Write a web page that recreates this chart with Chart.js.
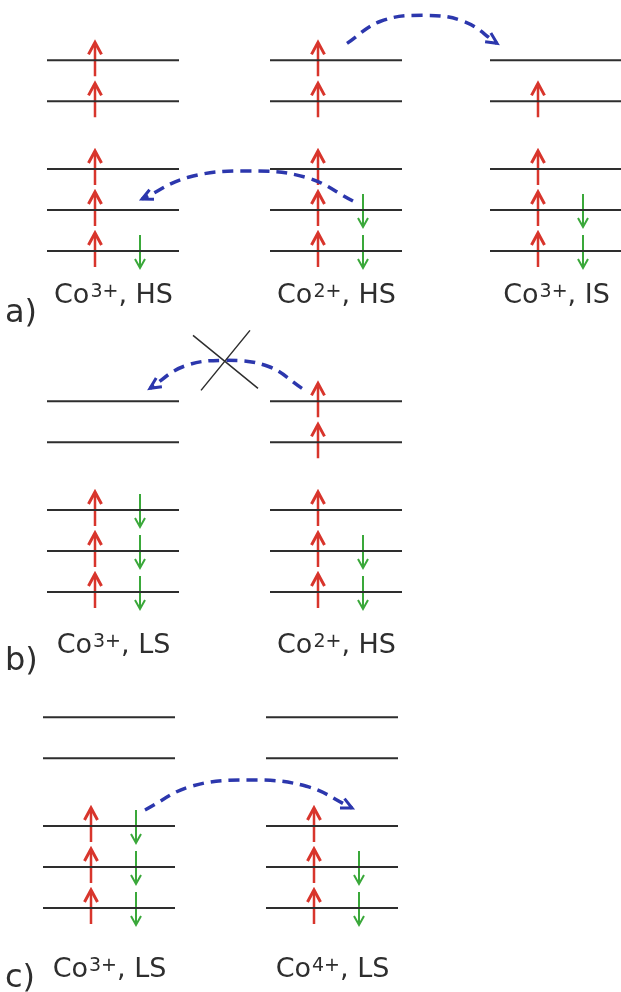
<!DOCTYPE html>
<html>
<head>
<meta charset="utf-8">
<script src="https://cdn.jsdelivr.net/npm/chart.js@4.4.0/dist/chart.umd.min.js"></script>
<style>
  html, body { margin: 0; padding: 0; background: #fff; }
  #wrap { width: 621px; height: 992px; }
</style>
</head>
<body>
<div id="wrap"><canvas id="levels" width="621" height="992"></canvas></div>
<script>
// d-level energies in units of the level spacing, lowest (t2g) first
const levelEnergy = [0, 1, 2, 3.65, 4.65]
const ionElement = ['Co', 'Co', 'Co', 'Co', 'Co', 'Co', 'Co']
const ionCharge = ['3+', '2+', '3+', '3+', '2+', '3+', '4+']
const ionSpin = ['HS', 'HS', 'IS', 'LS', 'HS', 'LS', 'LS']
const ionPanel = [0, 0, 0, 1, 1, 2, 2]
// electrons on each level (same order as levelEnergy)
const spinUp = [
  [1, 1, 1, 1, 1],
  [1, 1, 1, 1, 1],
  [1, 1, 1, 1, 0],
  [1, 1, 1, 0, 0],
  [1, 1, 1, 1, 1],
  [1, 1, 1, 0, 0],
  [1, 1, 1, 0, 0]
]
const spinDown = [
  [1, 0, 0, 0, 0],
  [1, 1, 0, 0, 0],
  [1, 1, 0, 0, 0],
  [1, 1, 1, 0, 0],
  [1, 1, 0, 0, 0],
  [1, 1, 1, 0, 0],
  [1, 1, 0, 0, 0]
]
const panelLabels = ['a)', 'b)', 'c)']
// electron hops: [fromIon, fromLevel, toIon, toLevel]
const hops = [[1, 4, 2, 4], [1, 1, 0, 1], [4, 4, 3, 4], [5, 2, 6, 2]]
const hopForbidden = [false, false, true, false]

// layout (chart units, y grows downwards)
const panelBase = [251, 592, 908]
const levelGap = 41
const ionLeft = [47, 270, 490, 47, 270, 43, 266]
const levelWidth = 132
const upOffset = 48
const downOffset = 93
const labelBaseline = [303, 653, 977]
const panelLabelBaseline = [322, 670, 987]
const hopShape = [[77, -17, 7, -17], [83, -9, 95, -11], [32, -13, 103, -13], [102, -16, 86, -18]]
const hopRise = [28, 28, 28, 28]
// arc profile: [fraction along the hop, fraction of the rise]
const arcProfile = [[0, 0], [0.22, 0.78], [0.5, 1], [0.78, 0.78], [1, 0]]
const crossArms = [[-33, -25, 32, 28], [24, -30, -25, 30]]

const RED = '#d8352c'
const GREEN = '#3aa83a'
const BLUE = '#2c37ad'
const INK = '#2e2e2e'

const levelY = (ion, level) => panelBase[ionPanel[ion]] - levelEnergy[level] * levelGap
const gap = { x: null, y: null }

const levelPts = []
const upShafts = [], upHeads = [], downShafts = [], downHeads = []
ionPanel.forEach((panel, ion) => {
  levelEnergy.forEach((e, level) => {
    const y = levelY(ion, level)
    levelPts.push({ x: ionLeft[ion], y }, { x: ionLeft[ion] + levelWidth, y }, gap)
    if (spinUp[ion][level]) {
      const x = ionLeft[ion] + upOffset
      upShafts.push({ x, y: y + 16 }, { x, y: y - 15 }, gap)
      upHeads.push({ x: x - 6.5, y: y - 6 }, { x, y: y - 18 }, { x: x + 6.5, y: y - 6 }, gap)
    }
    if (spinDown[ion][level]) {
      const x = ionLeft[ion] + downOffset
      downShafts.push({ x, y: y - 16 }, { x, y: y + 16 }, gap)
      downHeads.push({ x: x - 5, y: y + 8 }, { x, y: y + 17 }, { x: x + 5, y: y + 8 }, gap)
    }
  })
})

const arcSets = []
const arcHeads = []
const crossPts = []
hops.forEach(([fi, fl, ti, tl], k) => {
  const [sdx, sdy, edx, edy] = hopShape[k]
  const start = { x: ionLeft[fi] + sdx, y: levelY(fi, fl) + sdy }
  const end = { x: ionLeft[ti] + edx, y: levelY(ti, tl) + edy }
  const top = Math.min(start.y, end.y) - hopRise[k]
  const pts = arcProfile.map(([f, r]) => {
    const baseY = start.y + (end.y - start.y) * f
    return { x: start.x + (end.x - start.x) * f, y: baseY + (top - baseY) * r }
  })
  arcSets.push({
    data: pts,
    borderColor: BLUE,
    borderWidth: 3.5,
    borderDash: [11, 7],
    tension: 0.4
  })
  // open arrow head along the last stretch of the arc
  const prev = pts[pts.length - 2]
  const ang = Math.atan2(end.y - prev.y, end.x - prev.x)
  const len = 12
  arcHeads.push(
    { x: end.x - len * Math.cos(ang - 0.45), y: end.y - len * Math.sin(ang - 0.45) },
    end,
    { x: end.x - len * Math.cos(ang + 0.45), y: end.y - len * Math.sin(ang + 0.45) },
    gap
  )
  if (hopForbidden[k]) {
    const peak = pts[2]
    crossArms.forEach(([x1, y1, x2, y2]) => {
      crossPts.push({ x: peak.x + x1, y: peak.y + y1 }, { x: peak.x + x2, y: peak.y + y2 }, gap)
    })
  }
})

const lineSet = (data, color, width) => ({ data, borderColor: color, borderWidth: width })

const textPlugin = {
  id: 'ionText',
  afterDatasetsDraw(chart) {
    const { ctx, scales: { x, y } } = chart
    ctx.save()
    ctx.fillStyle = INK
    ctx.textBaseline = 'alphabetic'
    ionCharge.forEach((charge, i) => {
      const main = ionElement[i]
      const tail = ', ' + ionSpin[i]
      ctx.font = '27px "DejaVu Sans"'
      const wMain = ctx.measureText(main).width
      const wTail = ctx.measureText(tail).width
      ctx.font = '19px "DejaVu Sans"'
      const wSup = ctx.measureText(charge).width
      const cx = x.getPixelForValue(ionLeft[i] + levelWidth / 2)
      const by = y.getPixelForValue(labelBaseline[ionPanel[i]])
      let px = cx - (wMain + wSup + wTail) / 2
      ctx.font = '27px "DejaVu Sans"'
      ctx.fillText(main, px, by)
      px += wMain + 1
      ctx.font = '19px "DejaVu Sans"'
      ctx.fillText(charge, px, by - 6)
      px += wSup
      ctx.font = '27px "DejaVu Sans"'
      ctx.fillText(tail, px, by)
    })
    ctx.font = '32px "DejaVu Sans"'
    panelLabels.forEach((label, p) => {
      ctx.fillText(label, x.getPixelForValue(5), y.getPixelForValue(panelLabelBaseline[p]))
    })
    ctx.restore()
  }
}

new Chart(document.getElementById('levels').getContext('2d'), {
  type: 'scatter',
  data: {
    datasets: [
      lineSet(levelPts, INK, 2),
      lineSet(crossPts, INK, 1.5),
      ...arcSets,
      lineSet(arcHeads, BLUE, 3),
      lineSet(upShafts, RED, 2.5),
      lineSet(upHeads, RED, 3),
      lineSet(downShafts, GREEN, 2),
      lineSet(downHeads, GREEN, 2)
    ]
  },
  options: {
    responsive: false,
    animation: false,
    layout: { padding: 0 },
    datasets: {
      scatter: { showLine: true, pointRadius: 0, clip: false, spanGaps: false }
    },
    plugins: {
      legend: { display: false },
      tooltip: { enabled: false }
    },
    scales: {
      x: { type: 'linear', min: 0, max: 621, display: false },
      y: { type: 'linear', min: 0, max: 992, reverse: true, display: false }
    }
  },
  plugins: [textPlugin]
})
</script>
</body>
</html>
